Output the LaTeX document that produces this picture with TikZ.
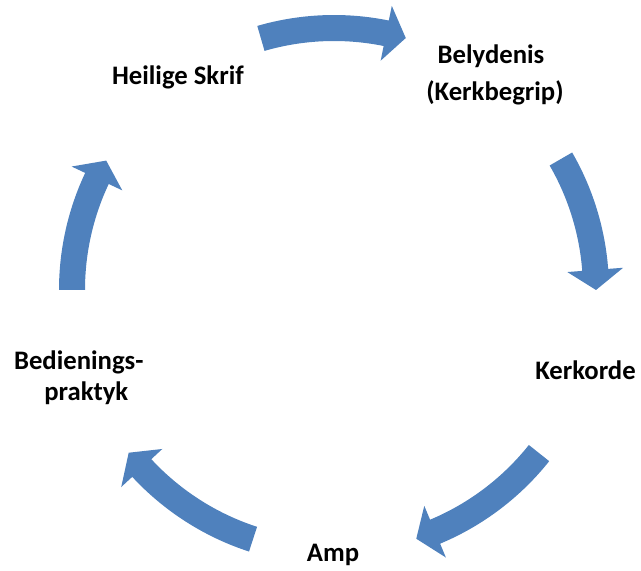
\documentclass[tikz,border=0pt]{standalone}
\usepackage{fontspec}
\setmainfont{Carlito}
\usetikzlibrary{calc}
\definecolor{cycblue}{RGB}{79,129,189}
\newcommand\cycarrow[2]{% #1 tail angle, #2 tip angle
  \pgfmathsetmacro\cybase{#2+4.4}
  \fill[cycblue] ($(C)+(#1:249pt)$) arc[start angle=#1, end angle=\cybase, radius=249pt]
    -- ($(C)+(\cybase:234pt)$) -- ($(C)+(#2:262pt)$) -- ($(C)+(\cybase:290pt)$)
    -- ($(C)+(\cybase:275pt)$) arc[start angle=\cybase, end angle=#1, radius=275pt] -- cycle;
}
\begin{document}
\begin{tikzpicture}[x=1pt,y=1pt,
  lbl/.style={inner sep=0pt, anchor=base, font=\fontsize{26.7}{32}\selectfont\bfseries}]
\useasboundingbox (0,0) rectangle (641,571);
\coordinate (C) at (334,281);
\cycarrow{106.2}{74.1}
\cycarrow{30}{0}
\cycarrow{-38.5}{-71.7}
\cycarrow{-108}{-141.6}
\cycarrow{180}{150.4}
\node[lbl] (hs) at (177.9,486.7) {Heilige Skrif};
\node[lbl] (bel) at (491,507.7) {Belydenis};
\node[lbl] (kb) at (495,470.3) {(Kerkbegrip)};
\node[lbl] (ko) at (585.5,191) {Kerkorde};
\node[lbl] (amp) at (333,9.3) {Amp};
\node[lbl] (bed) at (78.8,201.7) {Bedienings-};
\node[lbl] (pr) at (86.3,170.3) {praktyk};
\end{tikzpicture}
\end{document}
